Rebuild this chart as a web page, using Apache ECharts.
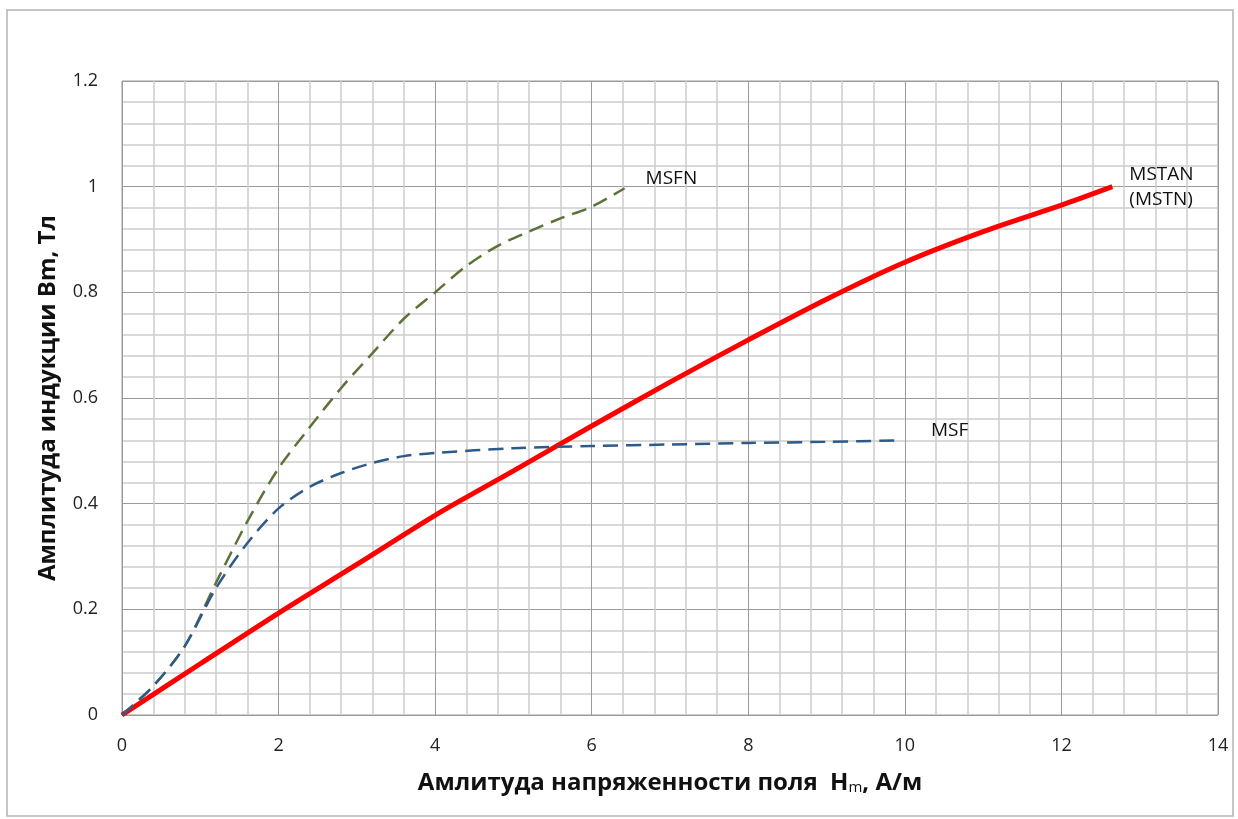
<!DOCTYPE html>
<html>
<head>
<meta charset="utf-8">
<script src="https://cdn.jsdelivr.net/npm/echarts@6/dist/echarts.min.js"></script>
<style>
  html, body { margin: 0; padding: 0; background: #fff; }
  #chart { width: 1238px; height: 819px; }
</style>
</head>
<body>
<div id="chart"></div>
<script>
// values
const mstanX = [0, 1, 2, 3, 4, 5, 6, 7, 8, 9, 10, 11, 12, 12.65];
const mstanY = [0, 0.097, 0.193, 0.285, 0.378, 0.462, 0.547, 0.63, 0.71, 0.787, 0.857, 0.915, 0.965, 1.0];

const msfnX = [0, 0.4, 0.8, 1.2, 1.6, 2, 2.4, 2.8, 3.2, 3.6, 4, 4.4, 4.8, 5.2, 5.6, 6, 6.42];
const msfnY = [0, 0.055, 0.13, 0.25, 0.366, 0.467, 0.545, 0.619, 0.685, 0.75, 0.8, 0.85, 0.888, 0.915, 0.94, 0.962, 0.997];

const msfX = [0, 0.4, 0.8, 1.2, 1.6, 2, 2.4, 2.8, 3.2, 3.6, 4, 5, 6, 7, 8, 9, 9.95];
const msfY = [0, 0.055, 0.13, 0.24, 0.325, 0.391, 0.432, 0.458, 0.477, 0.49, 0.496, 0.505, 0.509, 0.512, 0.515, 0.517, 0.52];

const xTitle = 'Амлитуда напряженности поля  H';
const yTitle = 'Амплитуда индукции Bm, Тл';

const zip = (xs, ys) => xs.map((x, i) => [x, ys[i]]);

const chart = echarts.init(document.getElementById('chart'));

const font = '"Open Sans", sans-serif';

const option = {
  backgroundColor: '#fff',
  animation: false,
  graphic: [{
    type: 'rect',
    shape: { x: 7, y: 10, width: 1226, height: 806 },
    style: { fill: 'none', stroke: '#b4b4b4', lineWidth: 1.5 },
    silent: true
  }],
  grid: { left: 122, right: 20, top: 81, bottom: 104, show: true, borderColor: '#9a9a9a', borderWidth: 1 },
  xAxis: {
    type: 'value',
    min: 0, max: 14, interval: 2,
    name: '{t|' + xTitle + '}{s|m}{t|, А/м}',
    nameLocation: 'middle',
    nameGap: 56,
    nameTextStyle: {
      rich: {
        t: { fontFamily: font, fontWeight: 'bold', fontSize: 24, color: '#111' },
        s: { fontFamily: font, fontWeight: 'normal', fontSize: 15, color: '#111', verticalAlign: 'bottom', padding: [9, 0, 0, 0] }
      }
    },
    axisLine: { show: false },
    axisTick: { show: false },
    axisLabel: { fontFamily: font, fontSize: 18, color: '#222', margin: 22 },
    splitLine: { show: true, lineStyle: { color: '#9a9a9a', width: 1 } },
    minorTick: { show: false, splitNumber: 5 },
    minorSplitLine: { show: true, lineStyle: { color: '#cdcdcd', width: 1.5 } }
  },
  yAxis: {
    type: 'value',
    min: 0, max: 1.2, interval: 0.2,
    name: yTitle,
    nameLocation: 'middle',
    nameGap: 62,
    nameTextStyle: { fontFamily: font, fontWeight: 'bold', fontSize: 24, color: '#111' },
    axisLine: { show: false },
    axisTick: { show: false },
    axisLabel: { fontFamily: font, fontSize: 18, color: '#222', margin: 24 },
    splitLine: { show: true, lineStyle: { color: '#9a9a9a', width: 1 } },
    minorTick: { show: false, splitNumber: 5 },
    minorSplitLine: { show: true, lineStyle: { color: '#cdcdcd', width: 1.5 } }
  },
  series: [
    {
      name: 'MSTAN',
      type: 'line',
      data: zip(mstanX, mstanY),
      smooth: 0.3,
      showSymbol: false,
      lineStyle: { color: '#ff0000', width: 5 },
      endLabel: {
        show: true,
        formatter: 'MSTAN\n(MSTN)',
        fontFamily: font, fontSize: 19, color: '#111', lineHeight: 25,
        offset: [9, 0]
      },
      z: 3
    },
    {
      name: 'MSFN',
      type: 'line',
      data: zip(msfnX, msfnY),
      smooth: 0.3,
      showSymbol: false,
      lineStyle: { color: '#5b7338', width: 2.5, type: [15, 8] },
      endLabel: {
        show: true,
        formatter: 'MSFN',
        fontFamily: font, fontSize: 19, color: '#111',
        offset: [13, -10]
      }
    },
    {
      name: 'MSF',
      type: 'line',
      data: zip(msfX, msfY),
      smooth: 0.3,
      showSymbol: false,
      lineStyle: { color: '#2e5a8a', width: 2.5, type: [15, 8] },
      endLabel: {
        show: true,
        formatter: 'MSF',
        fontFamily: font, fontSize: 19, color: '#111',
        offset: [22, -10]
      }
    }
  ]
};

chart.setOption(option);
</script>
</body>
</html>
